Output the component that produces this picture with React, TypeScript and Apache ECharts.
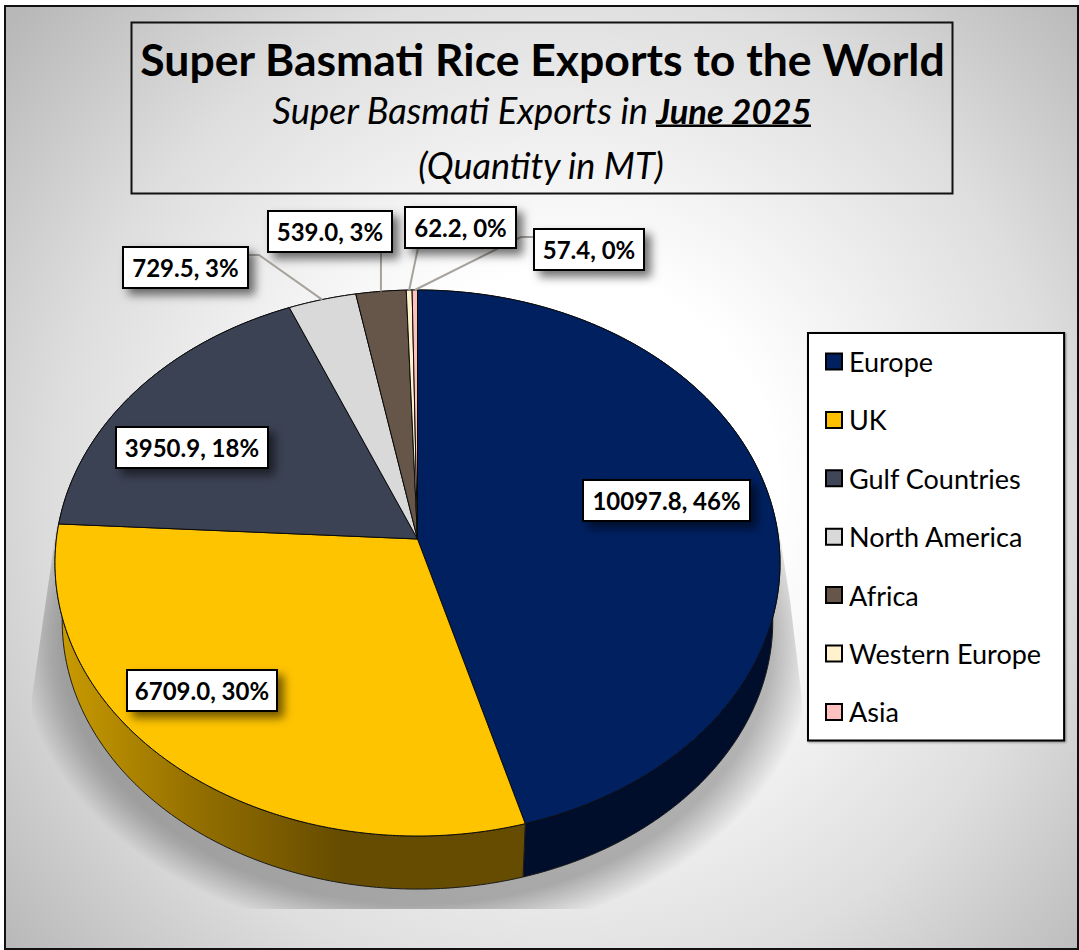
import React, { useEffect, useRef } from "react";
import * as echarts from "echarts";

const categories = ["Europe", "UK", "Gulf Countries", "North America", "Africa", "Western Europe", "Asia"];
const quantities = [10097.8, 6709.0, 3950.9, 729.5, 539.0, 62.2, 57.4];
const percentLabels = [46, 30, 18, 3, 3, 0, 0];

const topColors = ["#002060", "#FFC400", "#3B4254", "#D9D9D9", "#665649", "#FFF2CC", "#FFC0C0"];
const legendColors = ["#002060", "#FFC000", "#3F4658", "#D9D9D9", "#665649", "#FFF2CC", "#FFC0C0"];

// label box layout [left, top, right, bottom], leader line bend point or none
const boxes = [
  [583, 480, 750, 521],
  [127, 670, 277, 711],
  [116, 427, 268, 468],
  [123, 247, 248, 288],
  [268, 211, 392, 252],
  [405, 207, 516, 248],
  [534, 229, 644, 270],
];
const leaders: (number[][] | null)[] = [
  null,
  null,
  null,
  [[248, 255], [259, 255]],
  [[381, 252]],
  [[418, 248]],
  [[534, 237], [521, 237]],
];

// perspective projection of the pie disc
const CX = 417.5, CY = 539, A = 361.1, B = 270.9, K = 0.0879;
const project = (deg: number, s = 1, dy = 0) => {
  const t = (deg * Math.PI) / 180;
  const u = Math.sin(t), v = -Math.cos(t);
  const w = 1 - K * v;
  return [CX + (s * A * u) / w, CY + dy + (s * B * v) / w];
};
const arc = (from: number, to: number, s = 1, dy = 0) => {
  const n = Math.max(2, Math.ceil((to - from) / 0.5));
  const out: number[][] = [];
  for (let i = 0; i <= n; i++) out.push(project(from + ((to - from) * i) / n, s, dy));
  return out;
};
const BS = 0.98, BDY = 59;

const total = quantities.reduce((a, b) => a + b, 0);
const starts: number[] = [];
quantities.reduce((acc, q, i) => {
  starts[i] = (acc / total) * 360;
  return acc + q;
}, 0);

const bg = {
  type: "radial",
  x: 560,
  y: 490,
  r: 720,
  global: true,
  colorStops: [
    { offset: 0, color: "#ffffff" },
    { offset: 0.3, color: "#ffffff" },
    { offset: 0.7, color: "#dedede" },
    { offset: 1, color: "#b8b8b8" },
  ],
};

const ukWall = {
  type: "linear",
  x: 62,
  y: 0,
  x2: 340,
  y2: 0,
  global: true,
  colorStops: [
    { offset: 0, color: "#C89A00" },
    { offset: 0.45, color: "#977200" },
    { offset: 1, color: "#664C00" },
  ],
};
const wallFills: any[] = ["#000D2B", ukWall, "#1c1f28", "#666", "#332b24", "#807960", "#806060"];

// soft floor shadow: stacked translucent discs, widest first
const shadowSteps = Array.from({ length: 22 }, (_, j) => 44 - j * 2);
const shadowLayers = shadowSteps.map((dr) => ({
  type: "polygon",
  z: 0,
  z2: 1,
  silent: true,
  shape: { points: arc(0, 360, BS * (1 + dr / 355), BDY + 14) },
  style: { fill: "rgba(0,0,0,0.012)" },
}));

const sliceItem = (i: number) => (_params: any, _api: any) => {
  const start = starts[i];
  const end = start + (quantities[i] / total) * 360;
  const mid = (start + end) / 2;
  const box = boxes[i];
  const children: any[] = [];
  const top = arc(start, end);
  const bottom = arc(start, end, BS, BDY).reverse();
  children.push({
    type: "polygon",
    z2: 1,
    shape: { points: [...top, ...bottom] },
    style: { fill: wallFills[i], stroke: "#1a1a1a", lineWidth: 1 },
  });
  children.push({
    type: "polygon",
    z2: 10,
    shape: { points: [[CX, CY], ...top] },
    style: { fill: topColors[i], stroke: "#0a0a0a", lineWidth: 1 },
  });
  const lead = leaders[i];
  if (lead) {
    children.push({
      type: "polyline",
      z2: 20,
      shape: { points: [...lead, project(mid)] },
      style: { fill: "none", stroke: "#A8A29C", lineWidth: 2 },
    });
  }
  children.push({
    type: "rect",
    z2: 30,
    shape: { x: box[0], y: box[1], width: box[2] - box[0], height: box[3] - box[1] },
    style: {
      fill: "#fff",
      stroke: "#000",
      lineWidth: 2,
      shadowBlur: 10,
      shadowOffsetX: 6,
      shadowOffsetY: 6,
      shadowColor: "rgba(0,0,0,0.55)",
    },
  });
  children.push({
    type: "text",
    z2: 31,
    style: {
      x: (box[0] + box[2]) / 2,
      y: (box[1] + box[3]) / 2,
      text: `${quantities[i].toFixed(1)}, ${percentLabels[i]}%`,
      font: "bold 24px Lato",
      fill: "#000",
      align: "center",
      verticalAlign: "middle",
    },
  });
  return { type: "group", children };
};

export default function App() {
  const ref = useRef<HTMLDivElement>(null);
  useEffect(() => {
    const chart = echarts.init(ref.current!, undefined, { renderer: "svg" });
    const option: any = {
      animation: false,
      title: {
        text: "Super Basmati Rice Exports to the World",
        left: 537.5,
        top: 31,
        textAlign: "center",
        textStyle: { fontFamily: "Lato", fontWeight: "bold", fontSize: 44.5, color: "#000" },
      },
      legend: {
        orient: "vertical",
        left: 808,
        top: 333,
        data: categories,
        icon: "rect",
        itemWidth: 16,
        itemHeight: 16,
        itemGap: 31.4,
        padding: [15, 23, 15, 17],
        backgroundColor: "#fff",
        borderColor: "#000",
        borderWidth: 2,
        shadowColor: "rgba(0,0,0,0.4)",
        shadowBlur: 2,
        shadowOffsetX: 1,
        shadowOffsetY: 1,
        selectedMode: false,
        itemStyle: { borderColor: "#000", borderWidth: 2 },
        textStyle: { fontFamily: "Lato", fontSize: 27, color: "#000", padding: [0, 0, 0, 2] },
      },
      graphic: [
        { type: "rect", z: 0, z2: 0, silent: true, shape: { x: 5, y: 6, width: 1073, height: 943 }, style: { fill: bg, stroke: "#111", lineWidth: 2 } },
        ...shadowLayers,
        { type: "polygon", z: 0, z2: 2, silent: true, shape: { points: [[6, 300], [120, 300], [56, 530], [46, 600], [32, 697], [32, 909], [6, 909]] }, style: { fill: bg } },
        { type: "polygon", z: 0, z2: 2, silent: true, shape: { points: [[700, 300], [779, 530], [790, 600], [802, 700], [802, 909], [1077, 909], [1077, 300]] }, style: { fill: bg } },
        { type: "rect", z: 0, z2: 2, silent: true, shape: { x: 6, y: 909, width: 1071, height: 39 }, style: { fill: bg } },
        { type: "rect", z: 0, z2: 3, silent: true, shape: { x: 131.5, y: 22.5, width: 821, height: 171 }, style: { fill: "none", stroke: "#111", lineWidth: 2 } },
        { type: "text", z: 0, z2: 4, silent: true, style: { x: 648, y: 110, text: "Super Basmati Exports in", font: "italic 36.3px Lato", fill: "#000", align: "right", verticalAlign: "middle" } },
        { type: "text", z: 0, z2: 4, silent: true, style: { x: 656, y: 110, text: "June 2025", font: "italic bold 34.5px Lato", fill: "#000", align: "left", verticalAlign: "middle" } },
        { type: "rect", z: 0, z2: 4, silent: true, shape: { x: 656, y: 124.5, width: 155, height: 2.5 }, style: { fill: "#000" } },
        { type: "text", z: 0, z2: 4, silent: true, style: { x: 541, y: 165, text: "(Quantity in MT)", font: "italic 36px Lato", fill: "#000", align: "center", verticalAlign: "middle" } },
      ],
      series: categories.map((name, i) => ({
        type: "custom",
        name,
        coordinateSystem: "none",
        silent: true,
        itemStyle: { color: legendColors[i] },
        data: [quantities[i]],
        renderItem: sliceItem(i),
      })),
    };
    chart.setOption(option);
    return () => chart.dispose();
  }, []);
  return <div ref={ref} style={{ position: "absolute", left: 0, top: 0, width: 1079, height: 950 }} />;
}
